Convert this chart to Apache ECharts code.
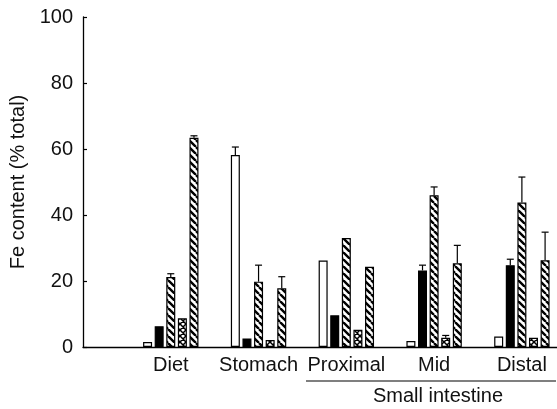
<!DOCTYPE html>
<html>
<head>
<meta charset="utf-8">
<script src="https://cdn.jsdelivr.net/npm/echarts@6/dist/echarts.min.js"></script>
<style>
  html, body { margin: 0; padding: 0; background: #fff; }
  #chart { width: 557px; height: 409px; }
</style>
</head>
<body>
<div id="chart"></div>
<script>
// Gut segments (x positions 1..5)
const categories = ['Diet', 'Stomach', 'Proximal', 'Mid', 'Distal'];

// Fe content (% of total) for the five fractions, with upper error values (SE)
const openVals   = [1.5, 58.2, 26.2, 1.8, 3.2];
const openErr    = [null, 60.6, null, null, null];
const blackVals  = [6.3, 2.6, 9.6, 23.2, 24.8];
const blackErr   = [null, null, null, 24.8, 26.6];
const hatchVals  = [21.2, 19.8, 33.0, 46.0, 43.8];
const hatchErr   = [22.2, 24.8, null, 48.5, 51.5];
const crossVals  = [8.7, 2.1, 5.2, 2.8, 2.8];
const crossErr   = [null, null, null, 3.5, null];
const hatch2Vals = [63.4, 17.8, 24.3, 25.4, 26.3];
const hatch2Err  = [64.0, 21.3, null, 30.8, 34.8];

const yTicks = [0, 20, 40, 60, 80, 100];

const BAR_W = 9;
const BAR_GAP = 2.6;

function makePattern(kind) {
  const s = kind === 'cross' ? 6 : 7;
  const c = document.createElement('canvas');
  c.width = s; c.height = s;
  const ctx = c.getContext('2d');
  ctx.fillStyle = '#fff';
  ctx.fillRect(0, 0, s, s);
  ctx.strokeStyle = '#000';
  ctx.lineWidth = kind === 'cross' ? 1.5 : 2.4;
  ctx.beginPath();
  for (let k = -1; k <= 1; k++) {
    ctx.moveTo(k * s, 0);
    ctx.lineTo(k * s + s, s);
    if (kind === 'cross') {
      ctx.moveTo(k * s + s, 0);
      ctx.lineTo(k * s, s);
    }
  }
  ctx.stroke();
  return { image: c, repeat: 'repeat' };
}

const groups = [
  { vals: openVals,   err: openErr,   fill: '#fff' },
  { vals: blackVals,  err: blackErr,  fill: '#000' },
  { vals: hatchVals,  err: hatchErr,  fill: makePattern('hatch') },
  { vals: crossVals,  err: crossErr,  fill: makePattern('cross') },
  { vals: hatch2Vals, err: hatch2Err, fill: makePattern('hatch') }
];

const series = [];
groups.forEach(function (g) {
  series.push({
    type: 'bar',
    data: g.vals.map(function (v, j) { return [j + 1, v]; }),
    barWidth: BAR_W,
    barGap: (BAR_GAP / BAR_W * 100) + '%',
    itemStyle: { color: g.fill, borderColor: '#000', borderWidth: 1.2 },
    silent: true,
    animation: false
  });
});

// Upper error whiskers, offset to sit over each bar in the group
groups.forEach(function (g, i) {
  const offset = (i - (groups.length - 1) / 2) * (BAR_W + BAR_GAP);
  const data = [];
  g.err.forEach(function (e, j) {
    if (e != null) data.push([j + 1, g.vals[j], e]);
  });
  series.push({
    type: 'custom',
    data: data,
    silent: true,
    animation: false,
    z: 5,
    renderItem: function (params, api) {
      const base = api.coord([api.value(0), api.value(1)]);
      const top = api.coord([api.value(0), api.value(2)]);
      const x = base[0] + offset;
      const style = { stroke: '#000', lineWidth: 1.2, fill: null };
      return {
        type: 'group',
        children: [
          { type: 'line', shape: { x1: x, y1: base[1], x2: x, y2: top[1] }, style: style },
          { type: 'line', shape: { x1: x - 3.5, y1: top[1], x2: x + 3.5, y2: top[1] }, style: style }
        ]
      };
    }
  });
});

const chart = echarts.init(document.getElementById('chart'), null, { renderer: 'canvas' });
chart.setOption({
  animation: false,
  backgroundColor: '#fff',
  textStyle: { fontFamily: 'Liberation Sans, Arial, sans-serif' },
  grid: { left: 83, right: 0, top: 17, bottom: 62 },
  xAxis: {
    type: 'value',
    min: 0,
    max: 5.4,
    interval: 1,
    splitLine: { show: false },
    axisTick: { show: false },
    axisLine: { show: true, lineStyle: { color: '#000', width: 1.3 } },
    axisLabel: {
      color: '#111',
      fontSize: 20,
      margin: 8,
      showMaxLabel: false,
      formatter: function (v) { return Number.isInteger(v) ? (categories[v - 1] || '') : ''; }
    }
  },
  yAxis: {
    type: 'value',
    min: yTicks[0],
    max: yTicks[yTicks.length - 1],
    interval: 20,
    name: 'Fe content (% total)',
    nameLocation: 'middle',
    nameGap: 47,
    nameTextStyle: { color: '#111', fontSize: 20 },
    splitLine: { show: false },
    axisLine: { show: true, lineStyle: { color: '#000', width: 1.3 } },
    axisTick: { show: true, inside: true, length: 4, lineStyle: { color: '#000', width: 1.2 } },
    axisLabel: { color: '#111', fontSize: 20, margin: 10 }
  },
  graphic: [
    {
      type: 'line',
      shape: { x1: 306, y1: 381, x2: 556, y2: 381 },
      style: { stroke: '#000', lineWidth: 1.2 }
    },
    {
      type: 'text',
      x: 438,
      y: 396,
      style: {
        text: 'Small intestine',
        fill: '#111',
        font: '20px "Liberation Sans", Arial, sans-serif',
        textAlign: 'center',
        textVerticalAlign: 'middle'
      }
    }
  ],
  series: series
});
</script>
</body>
</html>
